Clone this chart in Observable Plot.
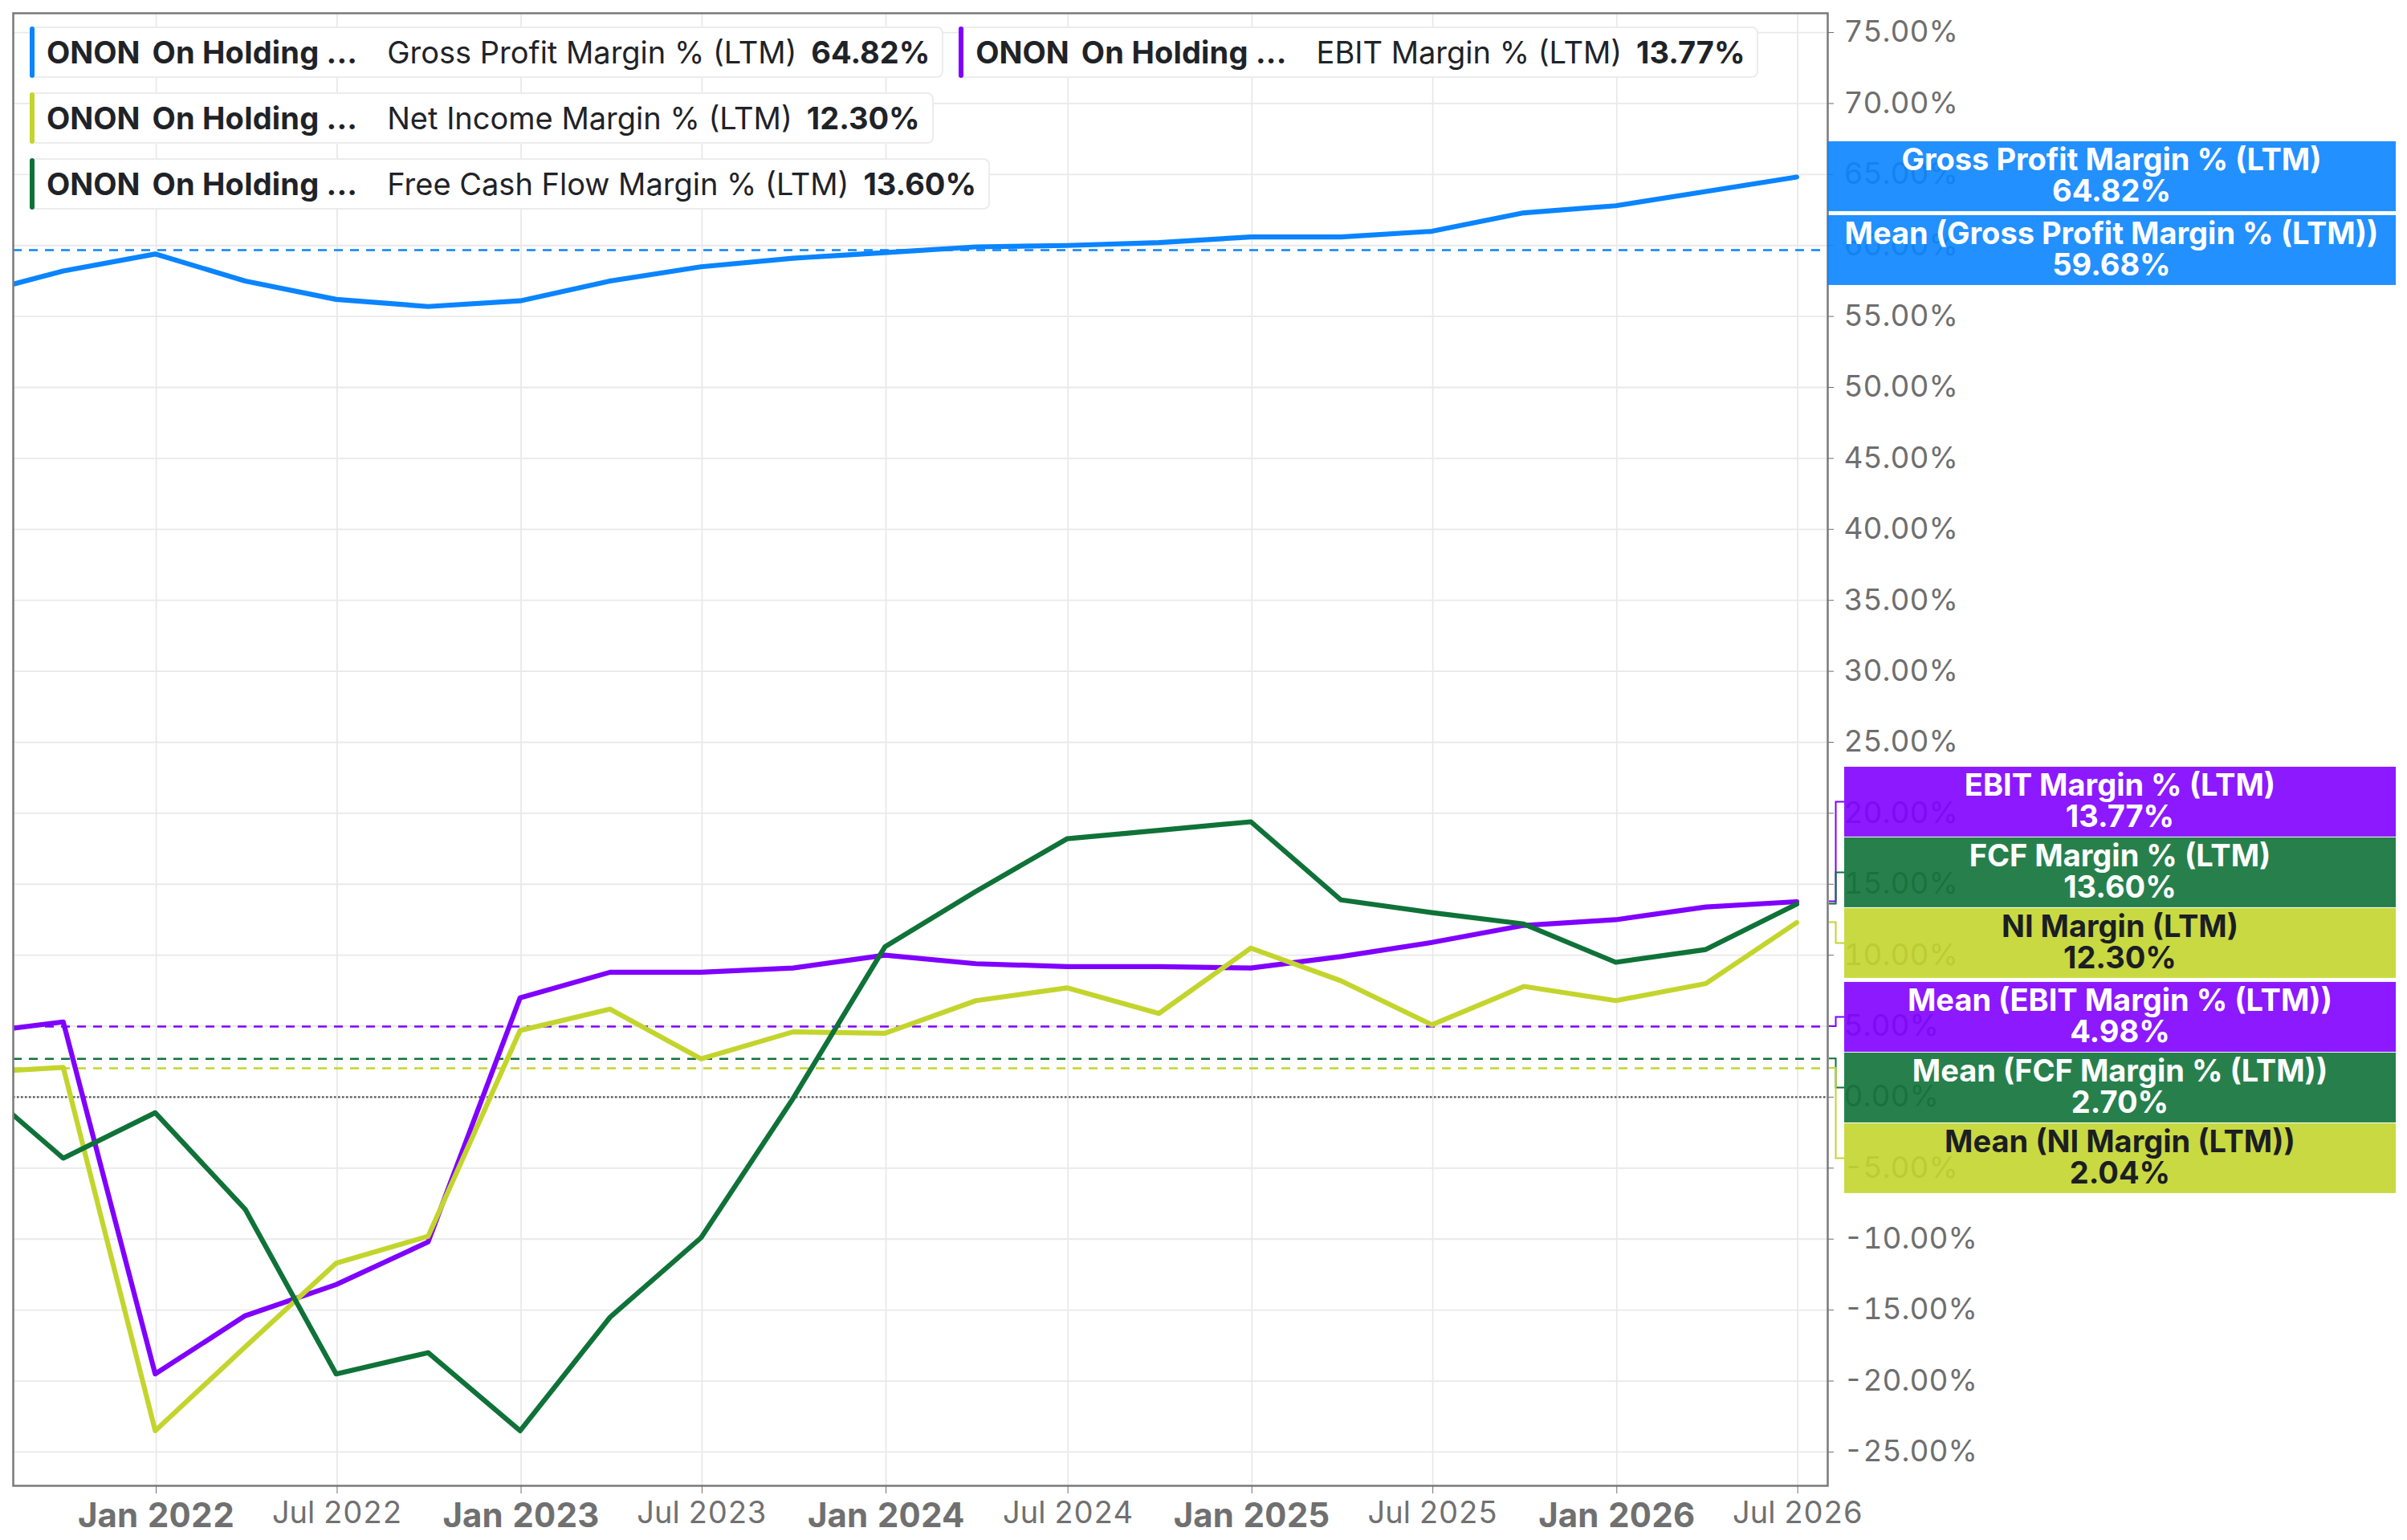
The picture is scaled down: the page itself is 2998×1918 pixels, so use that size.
<!DOCTYPE html>
<html><head><meta charset="utf-8">
<script src="https://cdn.jsdelivr.net/npm/d3@7"></script>
<script src="https://cdn.jsdelivr.net/npm/@observablehq/plot@0.6"></script>
<style>
html,body{margin:0;padding:0;background:#fff;overflow:hidden;}
#wrap{position:relative;width:2998px;height:1918px;font-family:Inter,"Noto Sans",sans-serif;}
#legend{position:absolute;left:37px;top:33px;display:flex;flex-direction:column;gap:18px;}
.row{display:flex;gap:19px;}
.leg{position:relative;display:flex;align-items:center;height:64px;box-sizing:border-box;border:2px solid #ececec;border-radius:8px;background:#fff;white-space:pre;font-size:38px;color:#1f2328;padding:0 15px 0 19px;}
.leg .bar{position:absolute;left:-2px;top:-2px;bottom:-2px;width:6px;border-radius:4px;}
.leg b{font-weight:700}
.leg .co{margin-left:15px;letter-spacing:0.2px}
.leg .m{margin-left:37px;font-weight:400}
.leg .v{margin-left:18px}
</style></head><body><div id="wrap"></div>
<script>
// ---- data ----
const quarterEnds = ["2021-06-30","2021-09-30","2021-12-31","2022-03-31","2022-06-30","2022-09-30","2022-12-31","2023-03-31","2023-06-30","2023-09-30","2023-12-31","2024-03-31","2024-06-30","2024-09-30","2024-12-31","2025-03-31","2025-06-30","2025-09-30","2025-12-31","2026-03-31","2026-06-30"];
const grossProfitMargin = [56.5, 58.2, 59.4, 57.5, 56.2, 55.7, 56.1, 57.5, 58.5, 59.1, 59.5, 59.9, 60.0, 60.2, 60.6, 60.6, 61.0, 62.3, 62.8, 63.8, 64.82];
const ebitMargin = [4.5, 5.3, -19.5, -15.4, -13.2, -10.2, 7.0, 8.8, 8.8, 9.1, 10.0, 9.4, 9.2, 9.2, 9.1, 9.9, 10.9, 12.1, 12.5, 13.4, 13.77];
const netIncomeMargin = [1.7, 2.1, -23.5, -17.6, -11.7, -9.8, 4.7, 6.2, 2.7, 4.6, 4.5, 6.8, 7.7, 5.9, 10.5, 8.2, 5.1, 7.8, 6.8, 8.0, 12.30];
const fcfMargin = [1.3, -4.3, -1.1, -7.9, -19.5, -18.0, -23.5, -15.5, -9.9, -0.1, 10.6, 14.5, 18.2, 18.8, 19.4, 13.9, 13.0, 12.2, 9.5, 10.4, 13.60];
const seriesNames = ["Gross Profit Margin % (LTM)", "EBIT Margin % (LTM)", "Net Income Margin % (LTM)", "Free Cash Flow Margin % (LTM)"];
const tagNames = ["Gross Profit Margin % (LTM)", "EBIT Margin % (LTM)", "NI Margin (LTM)", "FCF Margin % (LTM)"];
const meanNames = ["Mean (Gross Profit Margin % (LTM))", "Mean (EBIT Margin % (LTM))", "Mean (NI Margin (LTM))", "Mean (FCF Margin % (LTM))"];
const lastValues = [64.82, 13.77, 12.30, 13.60];
const meanValues = [59.68, 4.98, 2.04, 2.70];
const ticker = "ONON";
const company = "On Holding ...";
const yTickValues = [-25,-20,-15,-10,-5,0,5,10,15,20,25,30,35,40,45,50,55,60,65,70,75];
const janTicks = ["2022-01-01","2023-01-01","2024-01-01","2025-01-01","2026-01-01"];
const julTicks = ["2022-07-01","2023-07-01","2024-07-01","2025-07-01","2026-07-01"];

// ---- styles ----
const colors = ["#0a84ff", "#7f00ff", "#c3d52d", "#0f7238"];
const tagText = ["#ffffff", "#ffffff", "#1b1e23", "#ffffff"];
const seriesValues = [grossProfitMargin, ebitMargin, netIncomeMargin, fcfMargin];
const parse = d3.utcParse("%Y-%m-%d");
const dates = quarterEnds.map(parse);

const lineMarks = seriesValues.map((vals, s) =>
  Plot.line(vals.map((v, i) => ({date: dates[i], value: v})), {
    x: "date", y: "value", stroke: colors[s], strokeWidth: 6.2, clip: true,
    strokeLinejoin: "round", strokeLinecap: "round"
  }));
const meanMarks = meanValues.map((m, s) =>
  Plot.ruleY([m], {stroke: colors[s], strokeWidth: 2.5, strokeDasharray: "11,9"}));

const W = 2998, H = 1918;
const plot = Plot.plot({
  width: W, height: H,
  marginLeft: 16, marginTop: 16, marginRight: 722, marginBottom: 68,
  style: {fontFamily: "Inter, 'Noto Sans', sans-serif", background: "#fff", overflow: "visible"},
  x: {type: "utc", domain: [parse("2021-08-11"), parse("2026-07-31")], label: null},
  y: {domain: [-27.38, 76.36], label: null},
  marks: [
    Plot.gridX([...janTicks, ...julTicks].map(parse), {stroke: "#e9e9e9", strokeOpacity: 1, strokeWidth: 1.8}),
    Plot.gridY(yTickValues, {stroke: "#e9e9e9", strokeOpacity: 1, strokeWidth: 1.8}),
    Plot.ruleY([0], {stroke: "#555", strokeWidth: 2.2, strokeDasharray: "2.5,2.5"}),
    ...meanMarks,
    ...lineMarks,
    Plot.frame({stroke: "#7a7a7a", strokeWidth: 2.5}),
    Plot.axisY(yTickValues, {anchor: "right", tickFormat: d => d.toFixed(2) + "%", fontSize: 37, tickSize: 7, tickPadding: 13, color: "#6e6e6e"}),
    Plot.axisX(janTicks.map(parse), {tickFormat: d3.utcFormat("%b %Y"), fontSize: 42, fontWeight: "bold", tickSize: 10, tickPadding: 12, color: "#707070"}),
    Plot.axisX(julTicks.map(parse), {tickFormat: d3.utcFormat("%b %Y"), fontSize: 38, tickSize: 10, tickPadding: 10, color: "#707070"})
  ]
});
document.getElementById("wrap").appendChild(plot);

// ---- value tags on the right ----
const yS = plot.scale("y");
const frameRight = W - 722;
const tags = [];
lastValues.forEach((v, s) => tags.push({name: tagNames[s], value: v, s, kind: 0}));
meanValues.forEach((v, s) => tags.push({name: meanNames[s], value: v, s, kind: 1}));
tags.forEach(t => t.ideal = yS.apply(t.value));
tags.sort((a, b) => a.ideal - b.ideal);
const sep = (a, b) => 88 + (a.kind !== b.kind ? 4 : 0);
let clusters = tags.map(t => [t]);
function place(c) {
  const offs = [0];
  for (let k = 1; k < c.length; k++) offs.push(offs[k - 1] + sep(c[k - 1], c[k]));
  const shift = d3.mean(c, t => t.ideal) - d3.mean(offs);
  c.forEach((t, k) => t.pos = shift + offs[k]);
}
clusters.forEach(place);
let merged = true;
while (merged) {
  merged = false;
  for (let i = 0; i < clusters.length - 1; i++) {
    const a = clusters[i], b = clusters[i + 1];
    if (a[a.length - 1].pos + sep(a[a.length - 1], b[0]) > b[0].pos) {
      clusters.splice(i, 2, a.concat(b));
      place(clusters[i]);
      merged = true;
      break;
    }
  }
}
const svg = d3.select(plot);
const g = svg.append("g").attr("font-family", "Inter, 'Noto Sans', sans-serif");
const boxRight = 2984, boxH = 87;
tags.forEach(t => {
  const shifted = Math.abs(t.pos - t.ideal) > 2;
  const x0 = shifted ? 2297 : frameRight;
  const top = t.pos - boxH / 2;
  if (shifted) {
    g.append("path")
      .attr("d", `M${frameRight + 2},${t.ideal}H${frameRight + 10.5}V${t.pos}H${x0}`)
      .attr("fill", "none").attr("stroke", colors[t.s]).attr("stroke-width", 2);
  }
  g.append("rect").attr("x", x0).attr("y", top).attr("width", boxRight - x0).attr("height", boxH)
    .attr("fill", colors[t.s]).attr("fill-opacity", 0.9);
  const cx = (x0 + boxRight) / 2;
  g.append("text").attr("x", cx).attr("y", top + 36).attr("text-anchor", "middle")
    .attr("font-size", 38).attr("font-weight", 700).attr("fill", tagText[t.s]).text(t.name);
  g.append("text").attr("x", cx).attr("y", top + 75).attr("text-anchor", "middle")
    .attr("font-size", 38).attr("font-weight", 700).attr("fill", tagText[t.s]).text(t.value.toFixed(2) + "%");
});

// ---- legend ----
const legendRows = [[0, 1], [2], [3]];
const legend = document.createElement("div");
legend.id = "legend";
legendRows.forEach(r => {
  const row = document.createElement("div");
  row.className = "row";
  r.forEach(s => {
    const item = document.createElement("div");
    item.className = "leg";
    item.innerHTML = `<span class="bar" style="background:${colors[s]}"></span><b>${ticker}</b><b class="co">${company}</b><span class="m">${seriesNames[s]}</span><b class="v">${lastValues[s].toFixed(2)}%</b>`;
    row.appendChild(item);
  });
  legend.appendChild(row);
});
document.getElementById("wrap").appendChild(legend);
</script></body></html>
